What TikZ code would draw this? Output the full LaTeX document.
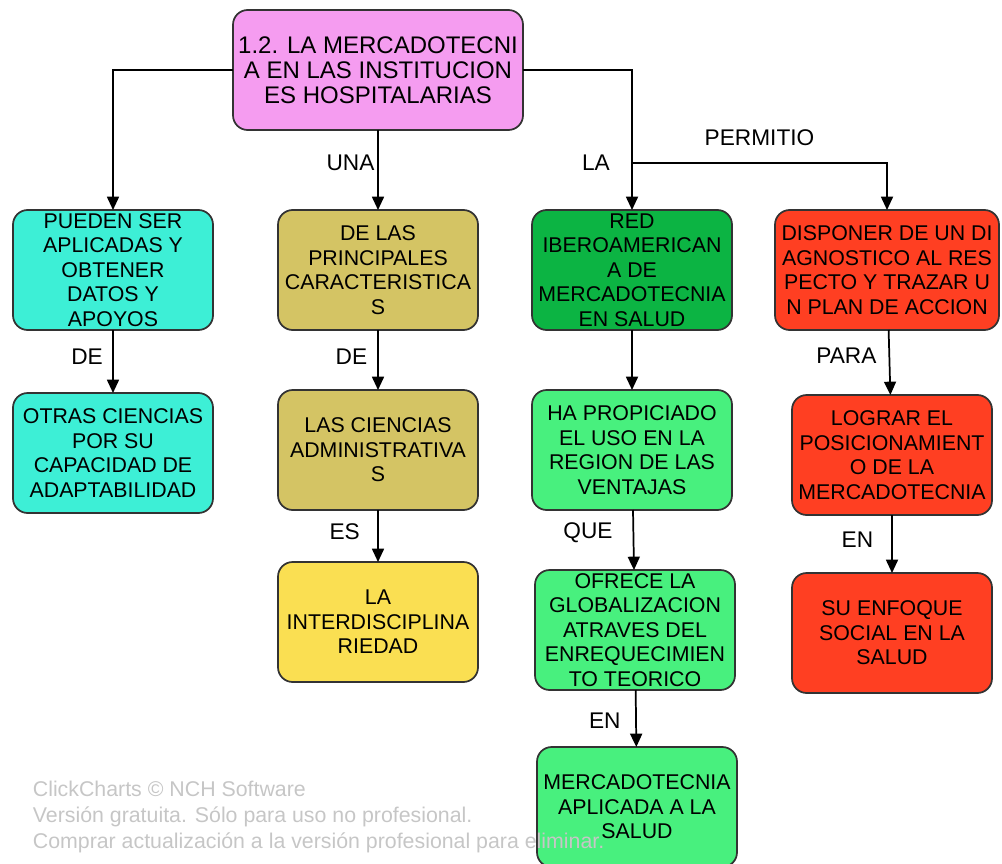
\documentclass[tikz,border=0pt]{standalone}
\usepackage{fontspec}
\setmainfont{Liberation Sans}
\usetikzlibrary{arrows.meta,positioning}
\definecolor{pinkbox}{RGB}{245,156,240}
\definecolor{turqbox}{RGB}{61,239,214}
\definecolor{khakibox}{RGB}{212,196,100}
\definecolor{darkgreenbox}{RGB}{12,180,67}
\definecolor{greenbox}{RGB}{72,240,126}
\definecolor{redbox}{RGB}{255,63,34}
\definecolor{yellowbox}{RGB}{250,223,82}
\definecolor{wmgray}{RGB}{198,198,198}
\tikzset{
  every picture/.style = {
    line width = 1.3pt,
    >={Triangle[length=10pt,width=9pt]},
    node distance = 45pt and 40pt,
  }
  ,
  concept/.style = {
    rectangle,
    rounded corners = 11pt,
    draw = black!80,
    align = center,
    inner sep = 0pt,
    outer sep = 0pt,
    font = \fontsize{16pt}{18.4pt}\selectfont,
    minimum width = 150pt,
    minimum height = 90pt
  }
  , % labels of edges
  label-edge/.style = {
    font = \fontsize{17pt}{19pt}\selectfont,
    inner sep = 2pt
  }
}

\begin{document}
\begin{tikzpicture}[->, x=0.75pt, y=-0.75pt]
  \useasboundingbox (0,0) rectangle (1002,863);

  \node [concept, fill=pinkbox, minimum width=217.5pt,
         font=\fontsize{18pt}{18.75pt}\selectfont] (tema) at (378,70)
        {1.2. LA MERCADOTECNI\\A EN LAS INSTITUCION\\ES HOSPITALARIAS};

  \node [concept, fill=khakibox, below = 60pt of tema] (carac)
        {DE LAS\\PRINCIPALES\\CARACTERISTICA\\S};
  \node [concept, fill=turqbox, left = 48.75pt of carac] (aplic)
        {PUEDEN SER\\APLICADAS Y\\OBTENER\\DATOS Y\\APOYOS};
  \node [concept, fill=darkgreenbox, right = 40.5pt of carac] (redib)
        {RED\\IBEROAMERICAN\\A DE\\MERCADOTECNIA\\EN SALUD};
  \node [concept, fill=redbox, minimum width=168pt, right = 32.25pt of redib] (diag)
        {DISPONER DE UN DI\\AGNOSTICO AL RES\\PECTO Y TRAZAR U\\N PLAN DE ACCION};

  \node [concept, fill=turqbox, below = 47.25pt of aplic] (otras)
        {OTRAS CIENCIAS\\POR SU\\CAPACIDAD DE\\ADAPTABILIDAD};
  \node [concept, fill=khakibox, below = of carac] (admin)
        {LAS CIENCIAS\\ADMINISTRATIVA\\S};
  \node [concept, fill=yellowbox, below = 39pt of admin] (inter)
        {LA\\INTERDISCIPLINA\\RIEDAD};
  \node [concept, fill=greenbox, below = of redib] (propic)
        {HA PROPICIADO\\EL USO EN LA\\REGION DE LAS\\VENTAJAS};
  \node [concept, fill=greenbox, below = of propic, xshift=2.25pt] (ofrece)
        {OFRECE LA\\GLOBALIZACION\\ATRAVES DEL\\ENREQUECIMIEN\\TO TEORICO};
  \node [concept, fill=greenbox, below = 42.75pt of ofrece, xshift=1.5pt] (aplsal)
        {MERCADOTECNIA\\APLICADA A LA\\SALUD};
  \node [concept, fill=redbox, below = 48.75pt of diag, xshift=3.75pt] (lograr)
        {LOGRAR EL\\POSICIONAMIENT\\O DE LA\\MERCADOTECNIA};
  \node [concept, fill=redbox, below = 43.5pt of lograr] (enfoq)
        {SU ENFOQUE\\SOCIAL EN LA\\SALUD};

  \coordinate [above = 35.25pt of redib.north] (cruce);

  \draw (tema.west) -| (aplic);
  \draw (tema.east) -| node [label-edge, left, pos=0.83, xshift=-14pt] {LA} (redib);
  \draw (cruce) -| node [label-edge, above, pos=0.25, yshift=10pt] {PERMITIO} (diag);

  \path (tema) edge node [label-edge, left, pos=0.41] {UNA} (carac)
        (aplic) edge node [label-edge, left, pos=0.43, xshift=-5pt] {DE} (otras)
        (carac) edge node [label-edge, left, pos=0.45, xshift=-5.5pt] {DE} (admin)
        (admin) edge node [label-edge, left, pos=0.42, xshift=-11pt] {ES} (inter)
        (redib) edge (propic)
        (propic) edge node [label-edge, left, pos=0.38, xshift=-13pt] {QUE} (ofrece)
        (ofrece) edge node [label-edge, left, pos=0.53, xshift=-9pt] {EN} (aplsal)
        (diag) edge node [label-edge, left, pos=0.4, xshift=-7pt] {PARA} (lograr)
        (lograr) edge node [label-edge, left, pos=0.43, xshift=-11.5pt] {EN} (enfoq);

  \node [anchor=north west, align=left, text=wmgray, inner sep=0pt,
         font=\fontsize{16pt}{19.5pt}\selectfont] (marca) at (32,780)
        {ClickCharts © NCH Software\\
         Versión gratuita. Sólo para uso no profesional.\\
         Comprar actualización a la versión profesional para eliminar.};
\end{tikzpicture}
\end{document}
